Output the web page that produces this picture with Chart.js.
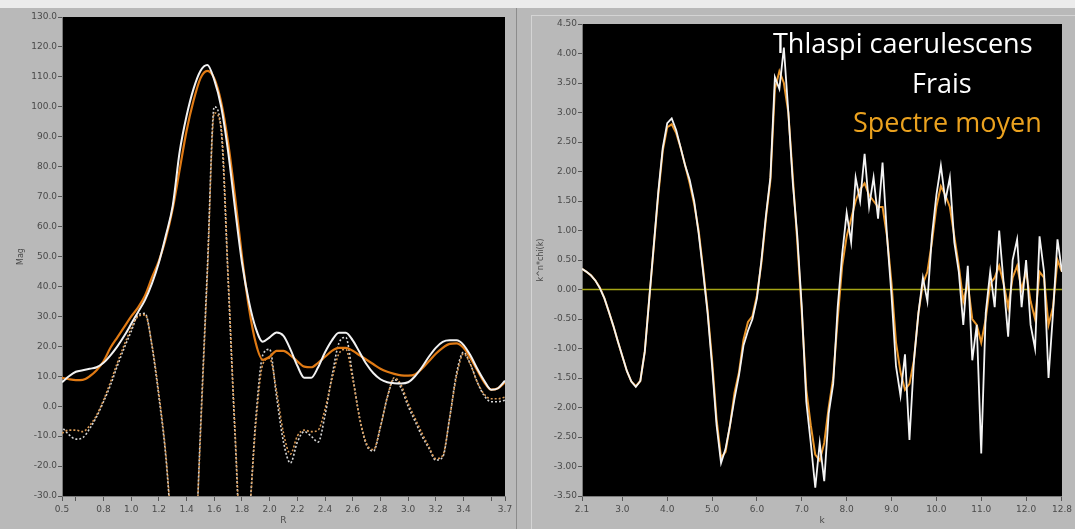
<!DOCTYPE html>
<html>
<head>
<meta charset="utf-8">
<script src="https://cdn.jsdelivr.net/npm/chart.js@4.4.1/dist/chart.umd.min.js"></script>
<style>
  body { margin: 0; background: #b9b9b9; width: 1075px; height: 529px; overflow: hidden; position: relative; }
  canvas { position: absolute; top: 0; }
  #leftChart { left: 0; }
  #rightChart { left: 530px; }
  .strip { position: absolute; left: 0; top: 0; width: 1075px; height: 8px; background: #ececec; }
  .vline1 { position: absolute; left: 516px; top: 8px; width: 1px; height: 521px; background: #8c8c8c; }
  .vline2 { position: absolute; left: 531px; top: 15px; width: 1px; height: 514px; background: #d4d4d4; }
  .hline2 { position: absolute; left: 531px; top: 15px; width: 544px; height: 1px; background: #d4d4d4; }
</style>
</head>
<body>
<canvas id="leftChart" width="516" height="529"></canvas>
<canvas id="rightChart" width="545" height="529"></canvas>
<div class="strip"></div>
<div class="vline1"></div>
<div class="vline2"></div>
<div class="hline2"></div>
<script>
// ---- left panel: |FT| and real part, R axis ----
const rValues = [0.50, 0.55, 0.60, 0.65, 0.70, 0.75, 0.80, 0.85, 0.90, 0.95,
                 1.00, 1.05, 1.10, 1.15, 1.20, 1.25, 1.30, 1.35, 1.40, 1.45,
                 1.50, 1.55, 1.60, 1.65, 1.70, 1.75, 1.80, 1.85, 1.90, 1.95,
                 2.00, 2.05, 2.10, 2.15, 2.20, 2.25, 2.30, 2.35, 2.40, 2.45,
                 2.50, 2.55, 2.60, 2.65, 2.70, 2.75, 2.80, 2.85, 2.90, 2.95,
                 3.00, 3.05, 3.10, 3.15, 3.20, 3.25, 3.30, 3.35, 3.40, 3.45,
                 3.50, 3.55, 3.60, 3.65, 3.70];

const magWhite = [8, 10, 11.5, 12, 12.5, 13, 14.5, 17, 20, 23.5,
                  27.5, 31.5, 35.5, 41, 48, 57, 67, 85, 97, 106,
                  112, 114, 109, 100, 85, 66, 48, 35, 26, 21.5,
                  23, 24.6, 23.5, 19, 13.5, 9.5, 9.5, 13, 18, 22,
                  24.5, 24.5, 22, 18, 14, 11, 9, 8, 7.7, 7.6,
                  8, 10, 13, 16.5, 19.5, 21.5, 22, 22, 20.5, 17,
                  12.5, 8.5, 5.5, 6, 8.5];

const magOrange = [9.5, 9, 8.7, 8.8, 10, 12, 15, 19.5, 23, 26.5,
                   30, 33, 37, 43, 48.5, 56, 66, 79, 92, 102,
                   109.5, 112, 109.5, 101.5, 88, 70, 50, 33, 21, 15.5,
                   16.5, 18.5, 18.5, 17, 15, 13.2, 13, 14.5, 16.5, 18.5,
                   19.5, 19.5, 18.5, 17, 15.5, 14, 12.5, 11.5, 10.8, 10.3,
                   10.2, 10.6, 12.5, 15, 17.5, 19.5, 20.8, 21, 19.5, 16,
                   12, 8, 5.5, 6, 8];

const reWhite = [-7, -9.5, -11, -10.5, -7.5, -3.5, 1.5, 7, 13.5, 19.5,
                 25, 30.5, 31, 20, 3, -17, -48, -80, -95, -65,
                 -8, 46, 100, 92, 42, -10, -52, -38, -4, 17,
                 19, 3, -12, -19, -12, -8.5, -10, -12, -3, 10,
                 21, 23, 10, -4, -13, -15, -7, 3, 9, 6,
                 0, -5, -10, -14, -18, -17, -4, 11, 18, 14,
                 8, 3.5, 1.5, 1.5, 2];

const reOrange = [-9, -8, -8, -8.5, -6.5, -3, 2, 8, 14.5, 20.5,
                  26, 30, 30.5, 20.5, 4, -16, -47, -80, -95, -63,
                  -10, 44, 98, 93, 44, -8, -50, -38, -6, 14,
                  16, 5, -9, -16, -10, -8, -8.5, -8, -1, 9,
                  17.5, 19, 9, -4, -12.5, -14.5, -7, 3, 9.5, 7,
                  1, -4, -9, -13.5, -17.5, -16.5, -4, 10, 17.5, 14,
                  8, 4, 2.5, 2.5, 3];

const rTicks = [0.5, 0.6, 0.8, 1.0, 1.2, 1.4, 1.6, 1.8, 2.0, 2.2, 2.4, 2.6, 2.8, 3.0, 3.2, 3.4, 3.6, 3.7];
const rTickLabels = ['0.5', '', '0.8', '1.0', '1.2', '1.4', '1.6', '1.8', '2.0', '2.2', '2.4', '2.6', '2.8', '3.0', '3.2', '3.4', '', '3.7'];

// ---- right panel: k^n*chi(k) ----
const kValues = [2.1, 2.2, 2.3, 2.4, 2.5, 2.6, 2.7, 2.8, 2.9, 3.0,
                 3.1, 3.2, 3.3, 3.4, 3.5, 3.6, 3.7, 3.8, 3.9, 4.0,
                 4.1, 4.2, 4.3, 4.4, 4.5, 4.6, 4.7, 4.8, 4.9, 5.0,
                 5.1, 5.2, 5.3, 5.4, 5.5, 5.6, 5.7, 5.8, 5.9, 6.0,
                 6.1, 6.2, 6.3, 6.4, 6.5, 6.6, 6.7, 6.8, 6.9, 7.0,
                 7.1, 7.2, 7.3, 7.4, 7.5, 7.6, 7.7, 7.8, 7.9, 8.0,
                 8.1, 8.2, 8.3, 8.4, 8.5, 8.6, 8.7, 8.8, 8.9, 9.0,
                 9.1, 9.2, 9.3, 9.4, 9.5, 9.6, 9.7, 9.8, 9.9, 10.0,
                 10.1, 10.2, 10.3, 10.4, 10.5, 10.6, 10.7, 10.8, 10.9, 11.0,
                 11.1, 11.2, 11.3, 11.4, 11.5, 11.6, 11.7, 11.8, 11.9, 12.0,
                 12.1, 12.2, 12.3, 12.4, 12.5, 12.6, 12.7, 12.8];

const chiWhite = [0.35, 0.30, 0.24, 0.15, 0.02, -0.15, -0.38, -0.62, -0.88, -1.13,
                  -1.38, -1.56, -1.65, -1.55, -1.05, -0.15, 0.75, 1.65, 2.40, 2.82,
                  2.90, 2.70, 2.40, 2.10, 1.86, 1.50, 0.95, 0.30, -0.40, -1.30,
                  -2.30, -2.94, -2.70, -2.30, -1.85, -1.45, -0.95, -0.70, -0.50, -0.15,
                  0.50, 1.25, 1.90, 3.60, 3.40, 4.10, 3.00, 1.80, 0.90, -0.30,
                  -1.90, -2.60, -3.36, -2.60, -3.25, -2.10, -1.60, -0.30, 0.60, 1.30,
                  0.80, 1.90, 1.50, 2.30, 1.40, 1.90, 1.20, 2.15, 0.90, -0.10,
                  -1.30, -1.80, -1.10, -2.55, -1.20, -0.40, 0.20, -0.20, 0.90, 1.60,
                  2.10, 1.50, 1.90, 0.80, 0.30, -0.60, 0.40, -1.20, -0.60, -2.78,
                  -0.40, 0.30, -0.30, 1.00, 0.10, -0.80, 0.50, 0.85, -0.30, 0.50,
                  -0.60, -1.00, 0.90, 0.30, -1.50, -0.40, 0.85, 0.30];

const chiOrange = [0.35, 0.30, 0.24, 0.15, 0.03, -0.15, -0.38, -0.62, -0.88, -1.13,
                   -1.38, -1.56, -1.64, -1.55, -1.05, -0.15, 0.72, 1.60, 2.35, 2.75,
                   2.80, 2.65, 2.40, 2.10, 1.80, 1.45, 1.00, 0.35, -0.35, -1.20,
                   -2.20, -2.85, -2.75, -2.30, -1.75, -1.40, -0.85, -0.55, -0.45, -0.10,
                   0.45, 1.20, 1.85, 3.40, 3.70, 3.50, 3.00, 1.90, 0.80, -0.40,
                   -1.70, -2.30, -2.80, -2.90, -2.60, -2.00, -1.50, -0.50, 0.40, 0.90,
                   1.20, 1.50, 1.70, 1.80, 1.60, 1.50, 1.40, 1.40, 0.90, 0.10,
                   -0.90, -1.40, -1.70, -1.60, -1.20, -0.40, 0.10, 0.30, 0.80, 1.40,
                   1.75, 1.60, 1.40, 0.90, 0.40, -0.20, 0.10, -0.50, -0.60, -0.90,
                   -0.50, 0.10, 0.20, 0.40, 0.10, -0.30, 0.20, 0.40, 0.00, 0.30,
                   -0.20, -0.50, 0.30, 0.20, -0.60, -0.30, 0.50, 0.30];

const kTicks = [2.1, 3, 4, 5, 6, 7, 8, 9, 10, 11, 12, 12.8];
const kTickLabels = ['2.1', '3.0', '4.0', '5.0', '6.0', '7.0', '8.0', '9.0', '10.0', '11.0', '12.0', '12.8'];

const titleLines = ['Thlaspi caerulescens', 'Frais', 'Spectre moyen'];

Chart.defaults.font.family = "'DejaVu Sans', Verdana, sans-serif";
Chart.defaults.font.size = 9;
Chart.defaults.color = '#4a4a4a';

function toPoints(xs, ys) {
    return xs.map((x, i) => ({ x: x, y: ys[i] }));
}

// black plotting area
const plotBg = {
    id: 'plotBg',
    beforeDraw(chart) {
        const a = chart.chartArea;
        const ctx = chart.ctx;
        ctx.save();
        ctx.fillStyle = '#000';
        ctx.fillRect(a.left, a.top, a.right - a.left, a.bottom - a.top);
        ctx.restore();
    }
};

// species / sample labels inside the right plot
const textLabels = {
    id: 'textLabels',
    afterDatasetsDraw(chart) {
        const ctx = chart.ctx;
        const a = chart.chartArea;
        ctx.save();
        ctx.font = "27px 'Open Sans', sans-serif";
        ctx.textBaseline = 'alphabetic';
        ctx.textAlign = 'left';
        ctx.fillStyle = '#ffffff';
        ctx.fillText(titleLines[0], a.left + 191, 53);
        ctx.fillText(titleLines[1], a.left + 330, 93);
        ctx.fillStyle = '#eba21f';
        ctx.fillText(titleLines[2], a.left + 271, 132);
        ctx.restore();
    }
};

function xScale(min, max, ticks, labels, title) {
    return {
        type: 'linear',
        min: min,
        max: max,
        afterBuildTicks: (scale) => { scale.ticks = ticks.map(v => ({ value: v })); },
        afterFit: (scale) => { scale.height = 33; },
        ticks: {
            autoSkip: false,
            maxRotation: 0,
            padding: 3,
            callback: (value) => labels[ticks.indexOf(value)]
        },
        grid: { drawOnChartArea: false, tickLength: 5, color: '#555' },
        border: { color: '#7a7a7a' },
        title: { display: true, text: title, padding: { top: 0, bottom: 3 } }
    };
}

function yScale(min, max, step, digits, title, width) {
    return {
        min: min,
        max: max,
        afterFit: (scale) => { scale.width = width; },
        ticks: {
            stepSize: step,
            padding: 1,
            callback: (value) => Number(value).toFixed(digits)
        },
        grid: { drawOnChartArea: false, tickLength: 4, color: '#555' },
        border: { color: '#7a7a7a' },
        title: { display: true, text: title, font: { size: 8 }, padding: 2 }
    };
}

const commonOpts = {
    responsive: false,
    animation: false,
    plugins: { legend: { display: false }, tooltip: { enabled: false } },
    elements: { point: { radius: 0 } }
};

new Chart(document.getElementById('leftChart').getContext('2d'), {
    type: 'line',
    data: {
        datasets: [
            { data: toPoints(rValues, magWhite), borderColor: '#f2f2f2', borderWidth: 2, cubicInterpolationMode: 'monotone' },
            { data: toPoints(rValues, magOrange), borderColor: '#e07a14', borderWidth: 2.2, cubicInterpolationMode: 'monotone' },
            { data: toPoints(rValues, reOrange), borderColor: '#d99a56', borderWidth: 1.6, borderDash: [2, 2], cubicInterpolationMode: 'monotone' },
            { data: toPoints(rValues, reWhite), borderColor: '#d4d4d4', borderWidth: 1.6, borderDash: [2, 2], borderDashOffset: 2, cubicInterpolationMode: 'monotone' }
        ]
    },
    options: Object.assign({}, commonOpts, {
        layout: { padding: { left: 14, right: 11, top: 17, bottom: 0 } },
        scales: {
            x: xScale(0.5, 3.7, rTicks, rTickLabels, 'R'),
            y: yScale(-30, 130, 10, 1, 'Mag', 48)
        }
    }),
    plugins: [plotBg]
});

new Chart(document.getElementById('rightChart').getContext('2d'), {
    type: 'line',
    data: {
        datasets: [
            { data: toPoints(kValues, chiWhite), borderColor: '#f4f4f4', borderWidth: 1.8, tension: 0 },
            { data: toPoints(kValues, chiOrange), borderColor: '#e8952a', borderWidth: 2, tension: 0 },
            { data: [{ x: kTicks[0], y: 0 }, { x: kTicks[kTicks.length - 1], y: 0 }], borderColor: '#a6a616', borderWidth: 1.5 }
        ]
    },
    options: Object.assign({}, commonOpts, {
        layout: { padding: { left: 4, right: 12, top: 24, bottom: 0 } },
        scales: {
            x: xScale(2.1, 12.8, kTicks, kTickLabels, 'k'),
            y: yScale(-3.5, 4.5, 0.5, 2, 'k^n*chi(k)', 48)
        }
    }),
    plugins: [plotBg, textLabels]
});
</script>
</body>
</html>
